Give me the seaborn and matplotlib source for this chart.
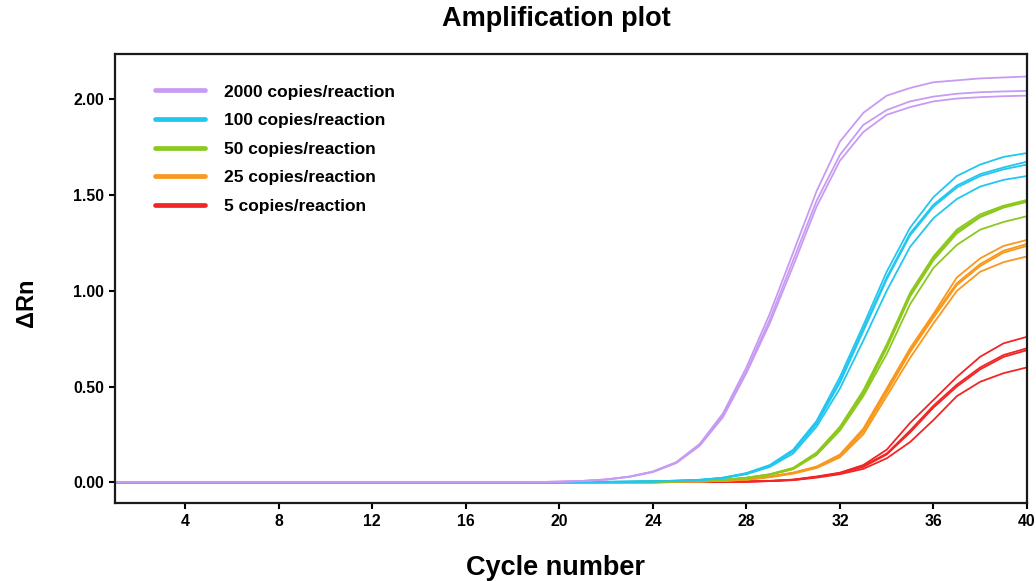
import matplotlib
matplotlib.use("Agg")
import matplotlib.pyplot as plt
from matplotlib.lines import Line2D
import seaborn as sns
import pandas as pd

# ---------------- data ----------------
cycles = list(range(1, 41))

groups = ["2000 copies/reaction", "100 copies/reaction", "50 copies/reaction",
          "25 copies/reaction", "5 copies/reaction"]
colors = ["#C89BF3", "#22C6EE", "#8DC81E", "#F8981D", "#F12626"]

# 2000 copies/reaction
p1 = [0.000, 0.000, 0.000, 0.000, 0.000, 0.000, 0.000, 0.000, 0.000, 0.000,
      0.000, 0.000, 0.000, 0.000, 0.000, 0.000, 0.000, 0.000, 0.001, 0.003,
      0.007, 0.015, 0.030, 0.056, 0.105, 0.200, 0.360, 0.600, 0.880, 1.200,
      1.520, 1.780, 1.930, 2.020, 2.060, 2.090, 2.100, 2.110, 2.115, 2.120]
p2 = [0.000, 0.000, 0.000, 0.000, 0.000, 0.000, 0.000, 0.000, 0.000, 0.000,
      0.000, 0.000, 0.000, 0.000, 0.000, 0.000, 0.000, 0.000, 0.001, 0.003,
      0.007, 0.014, 0.029, 0.055, 0.102, 0.195, 0.350, 0.580, 0.850, 1.160,
      1.470, 1.710, 1.867, 1.945, 1.990, 2.015, 2.030, 2.038, 2.042, 2.045]
p3 = [0.000, 0.000, 0.000, 0.000, 0.000, 0.000, 0.000, 0.000, 0.000, 0.000,
      0.000, 0.000, 0.000, 0.000, 0.000, 0.000, 0.000, 0.000, 0.001, 0.003,
      0.006, 0.014, 0.028, 0.053, 0.100, 0.190, 0.340, 0.570, 0.830, 1.130,
      1.440, 1.680, 1.830, 1.920, 1.960, 1.990, 2.005, 2.012, 2.017, 2.020]

# 100 copies/reaction
c1 = [0.000, 0.000, 0.000, 0.000, 0.000, 0.000, 0.000, 0.000, 0.000, 0.000,
      0.000, 0.000, 0.000, 0.000, 0.000, 0.000, 0.000, 0.000, 0.000, 0.000,
      0.001, 0.002, 0.003, 0.005, 0.008, 0.013, 0.024, 0.048, 0.090, 0.170,
      0.320, 0.550, 0.820, 1.100, 1.330, 1.490, 1.600, 1.660, 1.700, 1.720]
c2 = [0.000, 0.000, 0.000, 0.000, 0.000, 0.000, 0.000, 0.000, 0.000, 0.000,
      0.000, 0.000, 0.000, 0.000, 0.000, 0.000, 0.000, 0.000, 0.000, 0.000,
      0.001, 0.002, 0.003, 0.005, 0.008, 0.012, 0.023, 0.046, 0.086, 0.165,
      0.310, 0.530, 0.800, 1.070, 1.300, 1.450, 1.550, 1.610, 1.645, 1.675]
c3 = [0.000, 0.000, 0.000, 0.000, 0.000, 0.000, 0.000, 0.000, 0.000, 0.000,
      0.000, 0.000, 0.000, 0.000, 0.000, 0.000, 0.000, 0.000, 0.000, 0.000,
      0.001, 0.002, 0.003, 0.005, 0.008, 0.012, 0.022, 0.045, 0.085, 0.162,
      0.305, 0.520, 0.790, 1.060, 1.290, 1.440, 1.540, 1.600, 1.635, 1.660]
c4 = [0.000, 0.000, 0.000, 0.000, 0.000, 0.000, 0.000, 0.000, 0.000, 0.000,
      0.000, 0.000, 0.000, 0.000, 0.000, 0.000, 0.000, 0.000, 0.000, 0.000,
      0.001, 0.002, 0.003, 0.004, 0.007, 0.011, 0.021, 0.042, 0.080, 0.150,
      0.290, 0.490, 0.740, 1.000, 1.230, 1.380, 1.480, 1.545, 1.580, 1.600]

# 50 copies/reaction
g1 = [0.000, 0.000, 0.000, 0.000, 0.000, 0.000, 0.000, 0.000, 0.000, 0.000,
      0.000, 0.000, 0.000, 0.000, 0.000, 0.000, 0.000, 0.000, 0.000, 0.000,
      0.000, 0.001, 0.002, 0.003, 0.005, 0.008, 0.013, 0.024, 0.042, 0.075,
      0.155, 0.290, 0.480, 0.720, 0.990, 1.180, 1.320, 1.400, 1.445, 1.475]
g2 = [0.000, 0.000, 0.000, 0.000, 0.000, 0.000, 0.000, 0.000, 0.000, 0.000,
      0.000, 0.000, 0.000, 0.000, 0.000, 0.000, 0.000, 0.000, 0.000, 0.000,
      0.000, 0.001, 0.002, 0.003, 0.005, 0.008, 0.013, 0.023, 0.041, 0.073,
      0.152, 0.285, 0.470, 0.710, 0.980, 1.170, 1.310, 1.390, 1.440, 1.470]
g3 = [0.000, 0.000, 0.000, 0.000, 0.000, 0.000, 0.000, 0.000, 0.000, 0.000,
      0.000, 0.000, 0.000, 0.000, 0.000, 0.000, 0.000, 0.000, 0.000, 0.000,
      0.000, 0.001, 0.002, 0.003, 0.005, 0.007, 0.012, 0.022, 0.040, 0.071,
      0.148, 0.280, 0.460, 0.700, 0.970, 1.160, 1.300, 1.385, 1.435, 1.465]
g4 = [0.000, 0.000, 0.000, 0.000, 0.000, 0.000, 0.000, 0.000, 0.000, 0.000,
      0.000, 0.000, 0.000, 0.000, 0.000, 0.000, 0.000, 0.000, 0.000, 0.000,
      0.000, 0.001, 0.002, 0.003, 0.004, 0.007, 0.012, 0.021, 0.038, 0.068,
      0.142, 0.270, 0.450, 0.670, 0.930, 1.120, 1.240, 1.320, 1.360, 1.390]

# 25 copies/reaction
o1 = [0.000, 0.000, 0.000, 0.000, 0.000, 0.000, 0.000, 0.000, 0.000, 0.000,
      0.000, 0.000, 0.000, 0.000, 0.000, 0.000, 0.000, 0.000, 0.000, 0.000,
      0.000, 0.000, 0.001, 0.002, 0.003, 0.004, 0.008, 0.015, 0.030, 0.050,
      0.082, 0.145, 0.280, 0.490, 0.700, 0.880, 1.070, 1.170, 1.235, 1.266]
o2 = [0.000, 0.000, 0.000, 0.000, 0.000, 0.000, 0.000, 0.000, 0.000, 0.000,
      0.000, 0.000, 0.000, 0.000, 0.000, 0.000, 0.000, 0.000, 0.000, 0.000,
      0.000, 0.000, 0.001, 0.002, 0.003, 0.004, 0.008, 0.015, 0.029, 0.049,
      0.080, 0.140, 0.270, 0.480, 0.690, 0.870, 1.040, 1.140, 1.210, 1.245]
o3 = [0.000, 0.000, 0.000, 0.000, 0.000, 0.000, 0.000, 0.000, 0.000, 0.000,
      0.000, 0.000, 0.000, 0.000, 0.000, 0.000, 0.000, 0.000, 0.000, 0.000,
      0.000, 0.000, 0.001, 0.002, 0.003, 0.004, 0.007, 0.014, 0.028, 0.048,
      0.078, 0.138, 0.265, 0.470, 0.680, 0.860, 1.030, 1.130, 1.200, 1.235]
o4 = [0.000, 0.000, 0.000, 0.000, 0.000, 0.000, 0.000, 0.000, 0.000, 0.000,
      0.000, 0.000, 0.000, 0.000, 0.000, 0.000, 0.000, 0.000, 0.000, 0.000,
      0.000, 0.000, 0.001, 0.002, 0.003, 0.004, 0.007, 0.013, 0.026, 0.045,
      0.074, 0.130, 0.250, 0.450, 0.650, 0.830, 1.000, 1.100, 1.150, 1.180]

# 5 copies/reaction
r1 = [0.000, 0.000, 0.000, 0.000, 0.000, 0.000, 0.000, 0.000, 0.000, 0.000,
      0.000, 0.000, 0.000, 0.000, 0.000, 0.000, 0.000, 0.000, 0.000, 0.000,
      0.000, 0.000, 0.000, 0.000, 0.001, 0.001, 0.002, 0.004, 0.007, 0.014,
      0.030, 0.050, 0.090, 0.170, 0.310, 0.430, 0.550, 0.656, 0.726, 0.760]
r2 = [0.000, 0.000, 0.000, 0.000, 0.000, 0.000, 0.000, 0.000, 0.000, 0.000,
      0.000, 0.000, 0.000, 0.000, 0.000, 0.000, 0.000, 0.000, 0.000, 0.000,
      0.000, 0.000, 0.000, 0.000, 0.001, 0.001, 0.002, 0.004, 0.007, 0.013,
      0.028, 0.048, 0.085, 0.150, 0.270, 0.400, 0.510, 0.600, 0.665, 0.700]
r3 = [0.000, 0.000, 0.000, 0.000, 0.000, 0.000, 0.000, 0.000, 0.000, 0.000,
      0.000, 0.000, 0.000, 0.000, 0.000, 0.000, 0.000, 0.000, 0.000, 0.000,
      0.000, 0.000, 0.000, 0.000, 0.001, 0.001, 0.002, 0.003, 0.006, 0.012,
      0.027, 0.046, 0.080, 0.145, 0.260, 0.390, 0.500, 0.590, 0.655, 0.690]
r4 = [0.000, 0.000, 0.000, 0.000, 0.000, 0.000, 0.000, 0.000, 0.000, 0.000,
      0.000, 0.000, 0.000, 0.000, 0.000, 0.000, 0.000, 0.000, 0.000, 0.000,
      0.000, 0.000, 0.000, 0.000, 0.001, 0.001, 0.002, 0.003, 0.006, 0.011,
      0.024, 0.042, 0.070, 0.125, 0.210, 0.325, 0.450, 0.525, 0.570, 0.600]

curves = {
    groups[0]: [p1, p2, p3],
    groups[1]: [c1, c2, c3, c4],
    groups[2]: [g1, g2, g3, g4],
    groups[3]: [o1, o2, o3, o4],
    groups[4]: [r1, r2, r3, r4],
}

x_ticks = [4, 8, 12, 16, 20, 24, 28, 32, 36, 40]
y_ticks = [0.0, 0.5, 1.0, 1.5, 2.0]

# ---------------- long table ----------------
rows = []
for g, reps in curves.items():
    for i, rep in enumerate(reps):
        for cyc, val in zip(cycles, rep):
            rows.append({"cycle": cyc, "drn": val, "group": g, "rep": f"{g}_{i}"})
df = pd.DataFrame(rows)

# ---------------- plot ----------------
sns.set_theme(style="white")
plt.rcParams["font.family"] = ["Liberation Sans", "DejaVu Sans"]
plt.rcParams["font.weight"] = "bold"
plt.rcParams["text.color"] = "black"
plt.rcParams["xtick.color"] = "black"
plt.rcParams["ytick.color"] = "black"

fig = plt.figure(figsize=(10.36, 5.81), dpi=100)
ax = fig.add_axes([115 / 1036, 1 - 503.3 / 581, 912 / 1036, (503.3 - 54.3) / 581])

palette = dict(zip(groups, colors))
# draw lower concentrations first so that purple sits on top as in the reference
for g in groups[::-1]:
    sub = df[df["group"] == g]
    sns.lineplot(data=sub, x="cycle", y="drn", units="rep", estimator=None,
                 color=palette[g], lw=1.3, ax=ax, legend=False)

ax.set_xlim(1, 40)
ax.set_ylim(-0.11, 2.236)
ax.set_xticks(x_ticks)
ax.set_xticklabels([str(t) for t in x_ticks], fontsize=11.3, fontweight="bold",
                   color="black")
ax.set_yticks(y_ticks)
ax.set_yticklabels([f"{t:.2f}" for t in y_ticks], fontsize=11.3, fontweight="bold",
                   color="black")
ax.tick_params(axis="both", direction="out", length=4, width=1.5, color="black",
               bottom=True, left=True, pad=4)
for s in ax.spines.values():
    s.set_visible(True)
    s.set_color("#1a1a1a")
    s.set_linewidth(1.6)
ax.set_xlabel("")
ax.set_ylabel("")

fig.text(556 / 1036, 1 - 19 / 581, "Amplification plot", ha="center", va="center",
         fontsize=19.5, fontweight="bold", color="black")
fig.text(556 / 1036, 1 - 568 / 581, "Cycle number", ha="center", va="center",
         fontsize=19.5, fontweight="bold", color="black")
fig.text(26 / 1036, 1 - 303 / 581, "\u0394Rn", ha="center", va="center",
         rotation=90, fontsize=17, fontweight="bold", color="black")

handles = [Line2D([0], [0], color=c, lw=3.4) for c in colors]
leg = ax.legend(handles, groups, loc="upper left", bbox_to_anchor=(0.044, 0.933),
                frameon=False, fontsize=12.5, handlelength=2.87, handletextpad=1.1,
                labelspacing=0.77, borderpad=0, borderaxespad=0)
for t in leg.get_texts():
    t.set_fontweight("bold")
    t.set_color("black")

fig.savefig("out.png", dpi=100)
